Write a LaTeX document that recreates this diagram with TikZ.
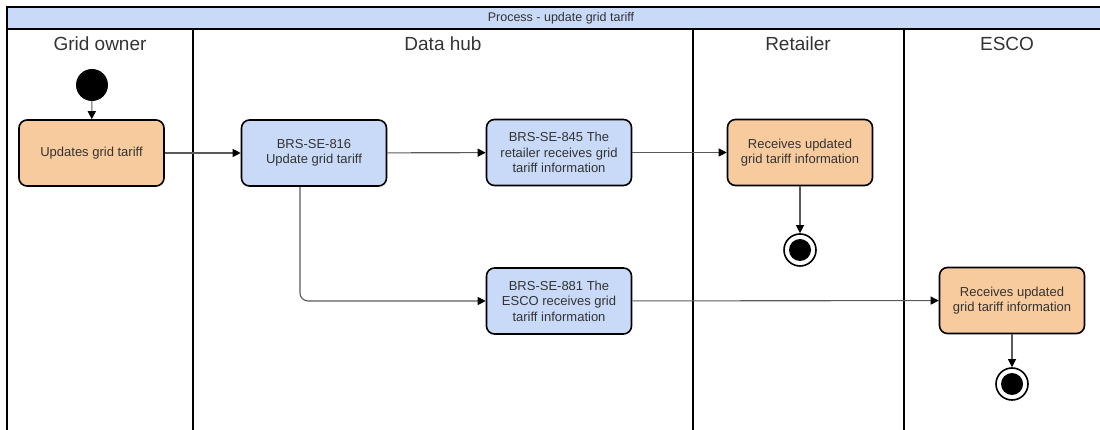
\documentclass[tikz,border=0pt]{standalone}
\usepackage{fontspec}
\setmainfont{Liberation Sans}
\usetikzlibrary{arrows.meta}
\definecolor{orangefill}{HTML}{F8CB9E}
\definecolor{bluefill}{HTML}{C9DAF8}
\definecolor{txt}{HTML}{333333}
\definecolor{conncol}{HTML}{5A5A5A}
\begin{document}
\begin{tikzpicture}[x=1pt,y=-1pt,
  actbox/.style={draw=black, line width=1.6pt, rounded corners=8pt, minimum width=145pt, minimum height=66pt, inner sep=0pt, align=center, text=txt, font=\fontsize{13}{15.5}\selectfont},
  orangebox/.style={actbox, fill=orangefill},
  bluebox/.style={actbox, fill=bluefill},
  lane/.style={line width=1.8pt, draw=black},
  conn/.style={draw=conncol, line width=1.1pt, -{Triangle[length=8pt,width=8pt,color=black]}},
  lanehead/.style={text=txt, font=\fontsize{19}{22}\selectfont, inner sep=0pt},
  startnode/.style={circle, fill=black, minimum size=32pt, inner sep=0pt},
  endnode/.style={circle, draw=black, line width=1.6pt, fill=white, minimum size=32pt, inner sep=0pt,
    path picture={\fill[black] (path picture bounding box.center) circle (11pt);}}
]
\useasboundingbox (0,0) rectangle (1100,430);
% title bar
\draw[line width=1.5pt, fill=bluefill] (7,7) rectangle (1106,29);
\node[text=txt, font=\fontsize{12.5}{14}\selectfont] (title) at (561,18) {Process - update grid tariff};
% lanes
\draw[lane] (7,7) -- (7,434);
\draw[lane] (193,29) -- (193,434);
\draw[lane] (693,29) -- (693,434);
\draw[lane] (904,29) -- (904,434);
\node[lanehead] (h1) at (100,44) {Grid owner};
\node[lanehead] (h2) at (443,44) {Data hub};
\node[lanehead] (h3) at (798,44) {Retailer};
\node[lanehead] (h4) at (1007,44) {ESCO};
% nodes
\node[startnode] (start) at (92,85) {};
\node[orangebox] (b1) at (91.5,153) {Updates grid tariff};
\node[bluebox] (b2) at (314,153) {BRS-SE-816\\Update grid tariff};
\node[bluebox] (b3) at (559,152.5) {BRS-SE-845 The\\retailer receives grid\\tariff information};
\node[orangebox] (r1) at (800,152.5) {Receives updated\\grid tariff information};
\node[endnode] (end1) at (800,250) {};
\node[bluebox] (b4) at (559,301) {BRS-SE-881 The\\ESCO receives grid\\tariff information};
\node[orangebox] (e1) at (1012,300.5) {Receives updated\\grid tariff information};
\node[endnode] (end2) at (1012,384) {};
% connectors
\draw[conn] (start) -- (b1);
\draw[conn] (b1) -- (b2);
\draw[conn] (b2) -- (b3);
\draw[conn] (b3) -- (r1);
\draw[conn] (r1) -- (end1);
\draw[conn, rounded corners=8pt] ([xshift=-14pt]b2.south) |- (b4.west);
\draw[conn] (b4) -- (e1);
\draw[conn] (e1) -- (end2);
\end{tikzpicture}
\end{document}
